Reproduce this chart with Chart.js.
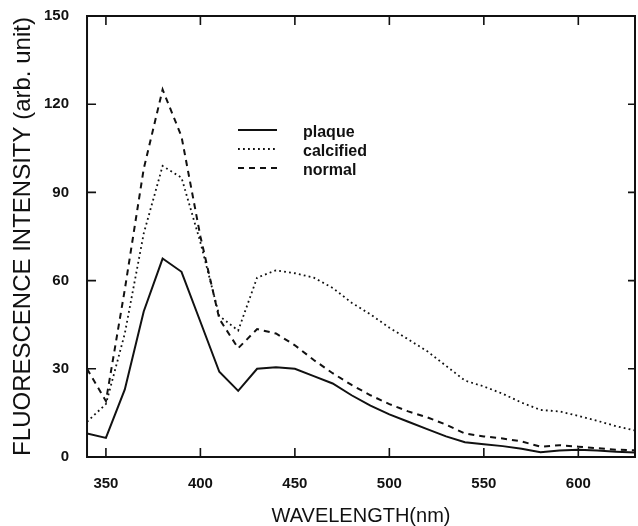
<!DOCTYPE html>
<html><head><meta charset="utf-8">
<script src="https://cdn.jsdelivr.net/npm/chart.js@4/dist/chart.umd.min.js"></script>
<style>html,body{margin:0;padding:0;background:#fff}#wrap{width:638px;height:526px}</style>
</head><body><div id="wrap"><canvas id="c" width="638" height="526"></canvas></div>
<script>
// ---- data ----
const wavelengths = [340,350,360,370,380,390,400,410,420,430,440,450,460,470,480,490,500,510,520,530,540,550,560,570,580,590,600,610,620,630];
const plaque    = [8,6.5,23,49.5,67.5,63,46,29,22.5,30,30.5,30,27.5,25,21,17.5,14.5,12,9.5,7,5,4.3,3.7,2.8,1.6,2.2,2.5,2.2,1.8,1.5];
const calcified = [12,18,42,76,99,95,73,48,43,61,63.5,62.5,61,57.5,52.5,48.5,44,40,36,31,26,24,21.5,18.5,16,15.5,14,12.3,10.5,9];
const normal    = [30,19,57,98,125,109,75,47,37,43.5,42,38,33,28.5,24.5,21,18,15.5,13.5,11,8,7,6.3,5.3,3.5,4,3.5,3,2.5,2.3];
const seriesNames = ['plaque','calcified','normal'];
const xTicks = [350,400,450,500,550,600];
const yTicks = [0,30,60,90,120,150];
const xTitle = 'WAVELENGTH(nm)';
const yTitle = 'FLUORESCENCE INTENSITY (arb. unit)';

const INK = '#111';
const FONT = '"Liberation Sans", Arial, Helvetica, sans-serif';
const TICK_PAD = 18;
const styles = [
  {borderDash: [], borderWidth: 2},
  {borderDash: [1.8, 3.2], borderWidth: 1.8},
  {borderDash: [6, 5], borderWidth: 2}
];
const seriesData = [plaque, calcified, normal];

const datasets = seriesNames.map((name, i) => ({
  label: name,
  data: wavelengths.map((w, k) => ({x: w, y: seriesData[i][k]})),
  borderColor: INK,
  borderWidth: styles[i].borderWidth,
  borderDash: styles[i].borderDash,
  pointRadius: 0,
  tension: 0,
  fill: false
}));

const framePlugin = {
  id: 'frame',
  afterDatasetsDraw(chart) {
    const {ctx, chartArea: a, scales: {x, y}} = chart;
    ctx.save();
    ctx.strokeStyle = INK;
    ctx.lineWidth = 2;
    ctx.setLineDash([]);
    ctx.strokeRect(a.left, a.top, a.right - a.left, a.bottom - a.top);
    const L = 9;
    ctx.lineWidth = 1.6;
    ctx.beginPath();
    xTicks.forEach(v => {
      const px = x.getPixelForValue(v);
      ctx.moveTo(px, a.bottom); ctx.lineTo(px, a.bottom - L);
      ctx.moveTo(px, a.top); ctx.lineTo(px, a.top + L);
    });
    yTicks.forEach(v => {
      const py = y.getPixelForValue(v);
      ctx.moveTo(a.left, py); ctx.lineTo(a.left + L, py);
      ctx.moveTo(a.right, py); ctx.lineTo(a.right - 7, py);
    });
    ctx.stroke();
    ctx.restore();
  }
};

const legendPlugin = {
  id: 'customLegend',
  afterDraw(chart) {
    const {ctx} = chart;
    ctx.save();
    chart.data.datasets.forEach((ds, i) => {
      const yLine = 130 + i * 19;
      ctx.strokeStyle = INK;
      ctx.lineWidth = ds.borderWidth;
      ctx.setLineDash(ds.borderDash);
      ctx.beginPath();
      ctx.moveTo(238, yLine); ctx.lineTo(277, yLine);
      ctx.stroke();
      ctx.setLineDash([]);
      ctx.fillStyle = INK;
      ctx.font = 'bold 16px ' + FONT;
      ctx.textBaseline = 'middle';
      ctx.textAlign = 'left';
      ctx.fillText(ds.label, 303, yLine + 3);
    });
    ctx.restore();
  }
};

// Chart.js reserves the tick padding twice; remove the extra copy and label overhang padding
const fitX = s => { s.paddingLeft = 0; s.paddingRight = 0; s.height -= TICK_PAD; };
const fitY = s => { s.paddingTop = 0; s.paddingBottom = 0; s.width -= TICK_PAD; };

new Chart(document.getElementById('c'), {
  type: 'line',
  data: {datasets},
  options: {
    responsive: false,
    animation: false,
    devicePixelRatio: 1,
    layout: {padding: {top: 16, right: 3, left: 11, bottom: 0}},
    plugins: {legend: {display: false}, tooltip: {enabled: false}},
    scales: {
      x: {
        type: 'linear', min: 340, max: 630,
        afterBuildTicks: s => { s.ticks = xTicks.map(v => ({value: v})); },
        afterFit: fitX,
        grid: {display: false, drawTicks: false},
        border: {display: false},
        ticks: {color: INK, font: {family: FONT, size: 15, weight: 'bold'}, padding: TICK_PAD, maxRotation: 0, autoSkip: false},
        title: {display: true, text: xTitle, color: INK, font: {family: FONT, size: 20, lineHeight: 1}, padding: {top: 13, bottom: 0}}
      },
      y: {
        type: 'linear', min: 0, max: 150,
        afterBuildTicks: s => { s.ticks = yTicks.map(v => ({value: v})); },
        afterFit: fitY,
        grid: {display: false, drawTicks: false},
        border: {display: false},
        ticks: {color: INK, font: {family: FONT, size: 15, weight: 'bold'}, padding: TICK_PAD, autoSkip: false},
        title: {display: true, text: yTitle, color: INK, font: {family: FONT, size: 24, lineHeight: 1}, padding: {top: 0, bottom: 9}}
      }
    }
  },
  plugins: [framePlugin, legendPlugin]
});
</script></body></html>
